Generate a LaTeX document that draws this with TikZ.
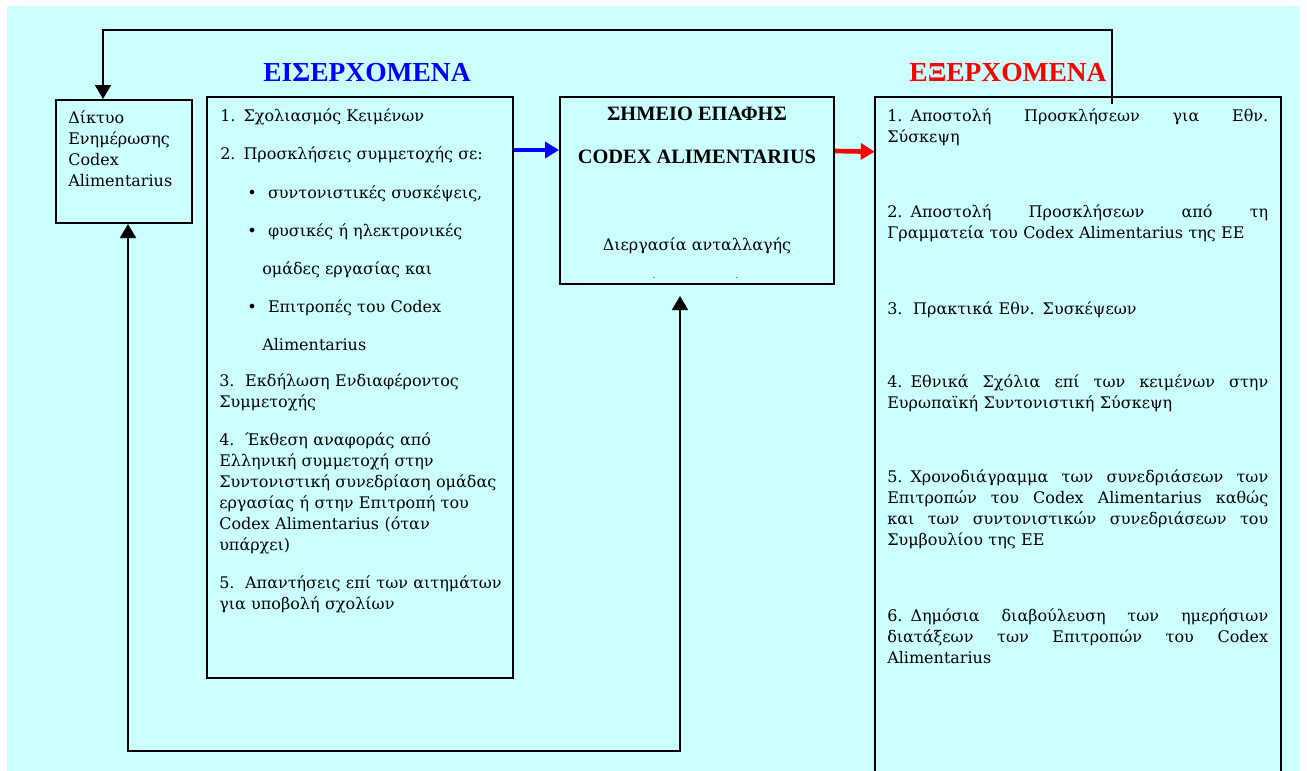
\documentclass[tikz,border=0pt]{standalone}
\usepackage{fontspec}
\setmainfont{DejaVu Serif}
\newfontfamily\timesfont{Liberation Serif}
\usetikzlibrary{arrows.meta, fit}
\definecolor{bgcyan}{RGB}{204,255,255}
\newcommand\jline[1]{\leavevmode\hbox to 285.75pt{#1}}

\begin{document}
\begin{tikzpicture}[x=0.75pt,y=-0.75pt,>={Triangle[length=10.5pt,width=12pt]},
  box/.style={draw,line width=1.5pt,inner sep=0pt},
  txt/.style={anchor=base west,inner sep=0pt,font=\fontsize{12}{15.75}\selectfont},
  para/.style={txt,text width=#1,align=left},
  head/.style={font=\timesfont\bfseries\fontsize{20.6}{24}\selectfont},
  bold/.style={txt,anchor=base,font=\timesfont\bfseries\fontsize{15.3}{18}\selectfont},
  conn/.style={line width=1.5pt}]

  \useasboundingbox (0,0) rectangle (1307,771);
  \fill[bgcyan] (7,6) rectangle (1300,771);

  % boxes
  \node[box,fit={(56,100) (192,223)}] (dikt) {};
  \node[box,fit={(207,97) (513,678)}] (eis) {};
  \node[box,fit={(560,97) (834,284)}] (simeio) {};
  \node[inner sep=0pt,fit={(875,97) (1281,776)}] (exer) {};
  \draw[line width=1.5pt] (exer.south west) |- (exer.north east) -- (exer.south east);

  % titles
  \node[head,text=blue] (tin) at (367,73) {ΕΙΣΕΡΧΟΜΕΝΑ};
  \node[head,text=red] (tout) at (1008,73) {ΕΞΕΡΧΟΜΕΝΑ};

  % left box
  \node[para=90pt] (dtxt) at (68,123) {Δίκτυο\\Ενημέρωσης\\Codex\\Alimentarius};

  % incoming list
  \node[txt] (i1) at (220,121) {1.\hspace{6pt}Σχολιασμός Κειμένων};
  \node[txt] (i2) at (220,159) {2.\hspace{6pt}Προσκλήσεις συμμετοχής σε:};
  \node[txt] (i2a) at (247,198) {\textbullet\hspace{8.5pt}συντονιστικές συσκέψεις,};
  \node[txt] (i2b) at (247,236) {\textbullet\hspace{8.5pt}φυσικές ή ηλεκτρονικές};
  \node[txt] (i2c) at (262,274) {ομάδες εργασίας και};
  \node[txt] (i2d) at (247,312) {\textbullet\hspace{8.5pt}Επιτροπές του Codex};
  \node[txt] (i2e) at (262,350) {Alimentarius};
  \node[para=215pt] (i3) at (219,386) {3.\ \ Εκδήλωση Ενδιαφέροντος\\Συμμετοχής};
  \node[para=215pt] (i4) at (219,445) {4.\ \ Έκθεση αναφοράς από\\Ελληνική συμμετοχή στην\\Συντονιστική συνεδρίαση ομάδας\\εργασίας ή στην Επιτροπή του\\Codex Alimentarius (όταν\\υπάρχει)};
  \node[para=215pt] (i5) at (219,588) {5.\ \ Απαντήσεις επί των αιτημάτων\\για υποβολή σχολίων};

  % contact point
  \node[bold] (s1) at (697,120) {ΣΗΜΕΙΟ ΕΠΑΦΗΣ};
  \node[bold] (s2) at (697,163) {CODEX ALIMENTARIUS};
  \node[txt,anchor=base] (s3) at (697,250) {Διεργασία ανταλλαγής};
  \node[txt,anchor=base,font=\tiny] (s4) at (654,279) {-};
  \node[txt,anchor=base,font=\tiny] (s5) at (737,279) {-};

  % outgoing list
  \node[para=285.75pt] (o1) at (887,121) {\jline{1. Αποστολή\hfill Προσκλήσεων\hfill για\hfill Εθν.}\\Σύσκεψη};
  \node[para=285.75pt] (o2) at (887,217) {\jline{2. Αποστολή\hfill Προσκλήσεων\hfill από\hfill τη}\\Γραμματεία του Codex Alimentarius της ΕΕ};
  \node[para=285.75pt] (o3) at (887,314) {3.\ \ Πρακτικά Εθν. Συσκέψεων};
  \node[para=285.75pt] (o4) at (887,387) {\jline{4. Εθνικά\hfill Σχόλια\hfill επί\hfill των\hfill κειμένων\hfill στην}\\Ευρωπαϊκή Συντονιστική Σύσκεψη};
  \node[para=285.75pt] (o5) at (887,482) {\jline{5. Χρονοδιάγραμμα\hfill των\hfill συνεδριάσεων\hfill των}\\\jline{Επιτροπών\hfill του\hfill Codex\hfill Alimentarius\hfill καθώς}\\\jline{και\hfill των\hfill συντονιστικών\hfill συνεδριάσεων\hfill του}\\Συμβουλίου της ΕΕ};
  \node[para=285.75pt] (o6) at (887,621) {\jline{6. Δημόσια\hfill διαβούλευση\hfill των\hfill ημερήσιων}\\\jline{διατάξεων\hfill των\hfill Επιτροπών\hfill του\hfill Codex}\\Alimentarius};

  % connectors
  \coordinate (fb) at (1112,104);
  \draw[conn,->] (fb) |- (103,30) -| ([xshift=-15.75pt]dikt.north);
  \draw[conn,<->] ([xshift=3pt]dikt.south) |- (680,751) -| ([xshift=-12.75pt,yshift=-8.25pt]simeio.south);
  \draw[blue,line width=3.2pt,->] ([yshift=-40.5pt]eis.north east) -- ([yshift=-40.5pt]simeio.north west);
  \draw[red,line width=3.5pt,->] ([yshift=-41.25pt]simeio.north east) -- ([yshift=-41.25pt]exer.north west);

\end{tikzpicture}
\end{document}
